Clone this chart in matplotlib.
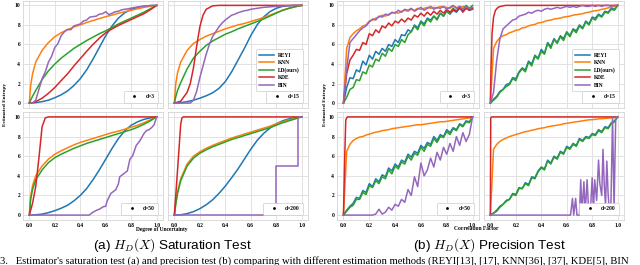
import numpy as np
import matplotlib
matplotlib.use('Agg')
import matplotlib.pyplot as plt
from matplotlib.lines import Line2D

plt.rcParams['font.family'] = ['Liberation Serif', 'DejaVu Serif']
plt.rcParams['font.weight'] = 'bold'
plt.rcParams['mathtext.fontset'] = 'cm'

METHODS = ['REYI', 'KNN', 'LD(ours)', 'KDE', 'BIN']
COLORS = ['#1f77b4', '#ff7f0e', '#2ca02c', '#d62728', '#9467bd']
DIMS = ['3', '15', '50', '200']

# shared x grids
X_SAT = [0, 0.01, 0.025, 0.05, 0.1, 0.15, 0.2, 0.25, 0.3, 0.35, 0.4, 0.45,
         0.5, 0.55, 0.6, 0.65, 0.7, 0.75, 0.8, 0.85, 0.9, 0.95, 1.0]
X41 = np.linspace(0, 1, 41)

# ---- saturation test ----
sat3_reyi = [0, 0.0, 0.02, 0.05, 0.15, 0.3, 0.55, 0.85, 1.25, 1.8, 2.5, 3.4, 4.5, 5.7, 6.9, 7.9, 8.7, 9.25, 9.6, 9.8, 9.92, 9.98, 10.0]
sat3_knn = [0, 1.8, 3.0, 4.2, 5.4, 6.2, 6.8, 7.2, 7.5, 7.8, 8.0, 8.25, 8.45, 8.65, 8.85, 9.0, 9.2, 9.35, 9.5, 9.65, 9.8, 9.9, 10.0]
sat3_ld = [0, 0.3, 0.7, 1.3, 2.4, 3.3, 4.0, 4.6, 5.1, 5.6, 6.0, 6.4, 6.75, 7.1, 7.4, 7.75, 8.1, 8.4, 8.7, 9.0, 9.3, 9.65, 10.0]
sat3_kde = [0, 0.01, 0.04, 0.15, 0.5, 1.0, 1.6, 2.3, 3.0, 3.8, 4.55, 5.3, 6.0, 6.65, 7.2, 7.6, 7.95, 8.25, 8.55, 8.85, 9.15, 9.55, 10.0]
sat3_bin = [0, 0, 0.3, 1.4, 2.5, 3.2, 4.2, 4.8, 5.7, 6.1, 6.9, 7.3, 7.55, 7.5, 7.9, 8.0, 8.1, 8.4, 8.5, 8.8,
            8.85, 8.9, 9.1, 9.15, 9.35, 9.05, 9.2, 9.35, 9.4, 9.55, 9.6, 9.65, 9.72, 9.78, 9.83, 9.88,
            9.92, 9.95, 9.98, 10.0, 10.0]

sat15_reyi = [0, 0, 0.01, 0.05, 0.15, 0.3, 0.5, 0.75, 1.05, 1.5, 2.2, 3.2, 4.4, 5.6, 6.9, 8.0, 8.8, 9.35, 9.7, 9.9, 9.97, 10.0, 10.0]
sat15_knn = [0, 1.9, 3.1, 4.2, 5.4, 6.1, 6.5, 6.85, 7.1, 7.35, 7.6, 7.8, 8.0, 8.15, 8.35, 8.55, 8.75, 9.0, 9.25, 9.5, 9.7, 9.85, 10.0]
sat15_ld = [0, 0.6, 1.3, 2.1, 3.5, 4.6, 5.3, 5.9, 6.35, 6.7, 7.05, 7.3, 7.6, 7.85, 8.1, 8.35, 8.6, 8.9, 9.2, 9.5, 9.7, 9.87, 10.0]
sat15_kde_x = [0, 0.05, 0.1, 0.125, 0.15, 0.175, 0.2, 0.225, 0.25, 0.3, 0.35, 1.0]
sat15_kde = [0, 0.2, 1.1, 2.0, 3.6, 5.8, 7.8, 9.0, 9.6, 9.95, 10.0, 10.0]
sat15_bin = [0, 0, 0, 0, 0, 0, 0.3, 1.2, 2.6, 3.8, 5.0, 6.0, 6.8, 7.3, 7.8, 8.2, 8.5, 8.75, 9.0, 9.1,
             9.25, 9.35, 9.45, 9.5, 9.6, 9.65, 9.7, 9.75, 9.8, 9.82, 9.85, 9.88, 9.9, 9.92, 9.94, 9.95,
             9.96, 9.97, 9.98, 9.99, 10.0]

sat50_reyi = [0, 0, 0.01, 0.03, 0.1, 0.25, 0.45, 0.7, 1.0, 1.45, 2.0, 2.7, 3.6, 4.6, 5.7, 6.8, 7.8, 8.6, 9.15, 9.5, 9.75, 9.9, 10.0]
sat50_knn = [0, 1.9, 3.0, 4.0, 5.0, 5.7, 6.2, 6.55, 6.85, 7.15, 7.4, 7.6, 7.8, 8.0, 8.2, 8.4, 8.55, 8.75, 8.95, 9.15, 9.4, 9.7, 10.0]
sat50_ld = [0, 1.6, 2.6, 3.6, 4.6, 5.35, 5.85, 6.2, 6.5, 6.8, 7.05, 7.3, 7.5, 7.7, 7.9, 8.1, 8.3, 8.5, 8.7, 8.95, 9.25, 9.6, 10.0]
sat50_kde_x = [0, 0.025, 0.05, 0.075, 0.1, 0.125, 0.15, 1.0]
sat50_kde = [0, 1.2, 2.9, 5.8, 9.0, 9.9, 10.0, 10.0]
sat50_bin_x = [0, 0.47, 0.5, 0.53, 0.55, 0.58, 0.6, 0.61, 0.64, 0.66, 0.68, 0.7, 0.71, 0.74, 0.77,
               0.79, 0.81, 0.84, 0.87, 0.9, 0.92, 0.94, 0.96, 0.98, 1.0]
sat50_bin = [0, 0, 0.3, 0.5, 0.6, 0.85, 0.9, 1.4, 2.2, 2.4, 2.6, 3.2, 3.9, 4.2, 4.5, 5.7, 6.0, 7.1,
             7.6, 8.3, 8.6, 8.7, 8.9, 9.2, 10.0]

sat200_reyi = [0, 0, 0.01, 0.03, 0.15, 0.35, 0.65, 1.05, 1.55, 2.2, 2.95, 3.8, 4.7, 5.7, 6.7, 7.6, 8.3, 8.85, 9.3, 9.6, 9.8, 9.93, 10.0]
sat200_knn = [0, 1.2, 2.4, 3.7, 5.2, 6.0, 6.45, 6.8, 7.1, 7.35, 7.6, 7.85, 8.05, 8.25, 8.45, 8.65, 8.85, 9.05, 9.3, 9.5, 9.7, 9.85, 10.0]
sat200_ld = [0, 1.0, 2.2, 3.5, 5.0, 5.8, 6.3, 6.65, 6.95, 7.2, 7.45, 7.7, 7.9, 8.1, 8.3, 8.5, 8.7, 8.9, 9.15, 9.4, 9.6, 9.8, 10.0]
sat200_kde_x = [0, 0.03, 0.05, 0.06, 0.07, 1.0]
sat200_kde = [0, 5.5, 9.3, 9.9, 10.0, 10.0]
sat200_bin_x = [0, 0.8, 0.8, 0.97, 0.97, 1.0]
sat200_bin = [0, 0, 5.0, 5.0, 10.0, 10.0]

# ---- precision test (41 points on X41 unless given) ----
pre3_reyi = [0, 1.6, 2.6, 2.5, 3.4, 3.2, 4.3, 3.9, 4.9, 4.5, 5.3, 5.0, 5.6, 5.3, 6.0, 5.8, 6.5, 6.2, 7.0, 6.9,
             7.5, 7.3, 8.0, 7.7, 8.4, 8.1, 8.7, 8.5, 8.9, 8.6, 9.2, 8.9, 9.4, 9.1, 9.5, 9.3, 9.7, 9.4, 9.8, 9.5, 9.6]
pre3_knn = [0, 5.6, 6.7, 7.1, 7.4, 7.6, 7.9, 8.0, 8.4, 8.5, 8.7, 8.8, 9.0, 8.9, 9.1, 9.2, 9.3, 9.2, 9.4, 9.5,
            9.4, 9.6, 9.5, 9.7, 9.6, 9.7, 9.8, 9.7, 9.8, 9.7, 9.9, 9.8, 9.8, 9.7, 9.9, 9.8, 9.7, 9.9, 9.8, 9.6, 9.7]
pre3_ld = [0, 0.6, 1.4, 1.6, 2.4, 2.3, 3.2, 3.0, 3.9, 3.7, 4.5, 4.3, 5.1, 4.8, 5.6, 5.3, 6.0, 5.8, 6.5, 6.2,
           7.0, 7.3, 7.9, 7.5, 8.3, 7.9, 8.6, 8.3, 8.9, 8.5, 9.2, 8.9, 9.5, 9.2, 9.7, 9.4, 9.9, 9.6, 10.0, 9.7, 10.0]
pre3_kde = [0, 3.0, 4.4, 4.9, 5.5, 5.4, 6.2, 6.0, 7.1, 6.9, 7.5, 7.2, 7.9, 7.7, 8.2, 7.9, 8.4, 8.2, 8.6, 8.3,
            8.7, 8.5, 9.0, 8.8, 9.2, 8.9, 9.3, 9.0, 9.4, 9.1, 9.5, 9.2, 9.6, 9.3, 9.6, 9.4, 9.8, 9.3, 9.7, 9.5, 9.7]
pre3_bin = [0, 3.5, 6.2, 6.6, 7.0, 7.4, 7.7, 7.9, 8.3, 8.6, 8.5, 8.9, 8.8, 9.1, 9.0, 9.3, 9.2, 9.5, 9.3, 9.6,
            9.5, 9.7, 9.4, 9.6, 9.8, 9.5, 9.7, 9.9, 9.6, 9.8, 9.7, 9.9, 9.6, 9.8, 10.0, 9.7, 9.9, 9.6, 9.9, 9.7, 9.8]

pre15_reyi = [0, 0.4, 0.7, 1.2, 1.4, 1.9, 2.0, 2.6, 2.5, 3.2, 3.6, 3.4, 4.3, 4.0, 4.9, 4.6, 5.5, 5.1, 6.2, 5.8,
              6.6, 6.2, 6.9, 6.6, 7.3, 6.9, 7.6, 7.4, 8.0, 7.7, 8.4, 8.1, 8.8, 8.7, 9.1, 8.9, 9.4, 9.3, 9.7, 9.6, 10.0]
pre15_knn = [0, 5.6, 6.3, 6.7, 6.9, 7.0, 7.2, 7.3, 7.45, 7.5, 7.7, 7.75, 7.9, 8.0, 8.05, 8.2, 8.25, 8.35, 8.45, 8.5,
             8.6, 8.65, 8.7, 8.8, 8.85, 8.9, 9.0, 9.05, 9.1, 9.15, 9.25, 9.3, 9.4, 9.45, 9.5, 9.6, 9.65, 9.75, 9.8, 9.9, 10.0]
pre15_ld = [0, 0.3, 0.6, 1.1, 1.4, 1.7, 1.9, 2.5, 2.3, 3.1, 3.5, 3.2, 4.2, 3.8, 4.8, 4.5, 5.3, 5.0, 6.1, 5.6,
            6.5, 6.1, 6.8, 6.4, 7.2, 6.8, 7.5, 7.2, 7.9, 7.6, 8.3, 8.0, 8.7, 8.5, 9.0, 8.8, 9.3, 9.2, 9.6, 9.5, 10.0]
pre15_kde_x = [0, 0.005, 0.013, 0.025, 0.04, 0.06, 0.08, 0.12, 1.0]
pre15_kde = [0, 3.5, 7.1, 8.8, 9.5, 9.8, 9.9, 10.0, 10.0]
pre15_bin = [0, 1.1, 4.4, 6.6, 7.6, 7.9, 8.2, 8.5, 8.6, 8.9, 9.0, 9.1, 9.3, 9.2, 9.4, 9.5, 9.4, 9.6, 9.7, 9.6,
             9.7, 9.8, 9.7, 9.8, 9.9, 9.8, 9.9, 9.8, 9.9, 10.0, 9.9, 9.9, 10.0, 9.9, 10.0, 9.9, 10.0, 10.0, 9.9, 10.0, 10.0]

pre50_reyi = [0, 0.5, 0.9, 1.2, 1.8, 1.7, 2.5, 2.3, 3.2, 2.9, 3.7, 3.4, 4.1, 3.9, 4.8, 4.5, 5.2, 4.9, 5.6, 5.4,
              6.2, 5.9, 6.5, 6.3, 7.1, 6.8, 7.4, 7.2, 8.0, 7.6, 8.2, 8.0, 8.7, 8.4, 8.9, 8.7, 9.3, 9.1, 9.6, 9.5, 10.0]
pre50_knn = [0, 6.5, 7.2, 7.6, 7.8, 7.95, 8.0, 8.15, 8.25, 8.35, 8.45, 8.5, 8.6, 8.65, 8.7, 8.8, 8.85, 8.9, 8.95, 9.0,
             9.05, 9.1, 9.15, 9.2, 9.2, 9.25, 9.3, 9.35, 9.4, 9.45, 9.5, 9.5, 9.55, 9.6, 9.65, 9.7, 9.75, 9.8, 9.85, 9.9, 10.0]
pre50_ld = [0, 0.4, 0.8, 1.0, 1.6, 1.6, 2.3, 2.1, 3.0, 2.8, 3.5, 3.2, 3.9, 3.7, 4.6, 4.2, 5.0, 4.7, 5.4, 5.2,
            6.0, 5.6, 6.3, 6.1, 6.9, 6.5, 7.2, 7.0, 7.8, 7.4, 8.0, 7.9, 8.5, 8.2, 8.8, 8.6, 9.2, 9.0, 9.5, 9.4, 10.0]
pre50_kde_x = [0, 0.01, 0.018, 0.03, 1.0]
pre50_kde = [0, 6.0, 9.7, 10.0, 10.0]
pre50_bin = [0, 0, 0, 0, 0, 0, 0, 0, 0, 0, 0.1, 0.6, 0.1, 0.3, 0.8, 0.5, 1.1, 0.9, 1.6, 1.3,
             2.6, 2.0, 3.9, 2.9, 5.3, 4.0, 4.6, 5.8, 4.9, 6.4, 5.6, 6.9, 6.2, 7.3, 6.5, 8.0, 7.1, 8.4, 7.5, 8.2, 10.0]

pre200_reyi = [0, 0.2, 0.5, 0.9, 1.1, 1.5, 1.6, 2.2, 2.1, 2.8, 2.7, 3.3, 3.1, 3.9, 3.8, 4.5, 4.9, 4.7, 5.6, 5.3,
               6.0, 5.8, 6.5, 6.3, 7.0, 6.8, 7.3, 7.1, 7.8, 7.6, 8.0, 7.9, 8.3, 8.2, 8.7, 8.5, 9.0, 8.9, 9.4, 9.6, 10.0]
pre200_knn = [0, 6.7, 7.2, 7.5, 7.7, 7.85, 8.0, 8.1, 8.2, 8.3, 8.4, 8.5, 8.55, 8.65, 8.7, 8.8, 8.85, 8.9, 9.0, 9.05,
              9.1, 9.15, 9.2, 9.3, 9.35, 9.4, 9.45, 9.5, 9.55, 9.6, 9.65, 9.7, 9.72, 9.75, 9.8, 9.82, 9.85, 9.88, 9.9, 9.95, 10.0]
pre200_ld = [0, 0.2, 0.4, 0.8, 1.1, 1.4, 1.6, 2.1, 2.0, 2.7, 2.7, 3.2, 3.0, 3.8, 3.7, 4.4, 4.8, 4.6, 5.5, 5.2,
             5.9, 5.7, 6.4, 6.2, 6.9, 6.7, 7.2, 7.0, 7.7, 7.5, 7.9, 7.8, 8.2, 8.1, 8.6, 8.4, 8.9, 8.8, 9.3, 9.5, 10.0]
pre200_kde_x = [0, 0.003, 0.01, 1.0]
pre200_kde = [0, 9.9, 10.0, 10.0]
pre200_bin_x = [0, 0.63, 0.645, 0.655, 0.67, 0.68, 0.70, 0.71, 0.72, 0.735, 0.745, 0.76, 0.77, 0.785, 0.80, 0.81,
                0.82, 0.835, 0.85, 0.86, 0.875, 0.885, 0.895, 0.905, 0.915, 0.925, 0.935, 0.947, 0.96, 0.972, 0.985, 1.0]
pre200_bin = [0, 0, 1.7, 0, 1.7, 0, 0, 3.6, 0.3, 3.4, 0.2, 3.6, 1.0, 0.2, 3.8, 0.5,
              3.6, 1.5, 5.6, 3.2, 2.0, 6.7, 3.0, 1.0, 5.5, 2.2, 0.4, 0.8, 10.0, 0.6, 10.0, 10.0]

sat_series = [
    [(X_SAT, sat3_reyi), (X_SAT, sat3_knn), (X_SAT, sat3_ld), (X_SAT, sat3_kde), (X41, sat3_bin)],
    [(X_SAT, sat15_reyi), (X_SAT, sat15_knn), (X_SAT, sat15_ld), (sat15_kde_x, sat15_kde), (X41, sat15_bin)],
    [(X_SAT, sat50_reyi), (X_SAT, sat50_knn), (X_SAT, sat50_ld), (sat50_kde_x, sat50_kde), (sat50_bin_x, sat50_bin)],
    [(X_SAT, sat200_reyi), (X_SAT, sat200_knn), (X_SAT, sat200_ld), (sat200_kde_x, sat200_kde), (sat200_bin_x, sat200_bin)],
]
pre_series = [
    [(X41, pre3_reyi), (X41, pre3_knn), (X41, pre3_ld), (X41, pre3_kde), (X41, pre3_bin)],
    [(X41, pre15_reyi), (X41, pre15_knn), (X41, pre15_ld), (pre15_kde_x, pre15_kde), (X41, pre15_bin)],
    [(X41, pre50_reyi), (X41, pre50_knn), (X41, pre50_ld), (pre50_kde_x, pre50_kde), (X41, pre50_bin)],
    [(X41, pre200_reyi), (X41, pre200_knn), (X41, pre200_ld), (pre200_kde_x, pre200_kde), (pre200_bin_x, pre200_bin)],
]

W, H = 640, 265


def rect(x0, x1, y0, y1):
    return [x0 / W, 1 - y1 / H, (x1 - x0) / W, (y1 - y0) / H]


def draw_panel(ax, series, dim, first_col, bottom_row, main_legend):
    for (xs, ys), name, c in zip(series, METHODS, COLORS):
        ax.plot(xs, ys, color=c, lw=1.1, label=name)
    ax.set_xlim(-0.05, 1.05)
    ax.set_ylim(-0.5, 10.5)
    ax.set_xticks([0, 0.2, 0.4, 0.6, 0.8, 1.0])
    ax.set_xticklabels(['0.0', '0.2', '0.4', '0.6', '0.8', '1.0'])
    ax.set_yticks([0, 2, 4, 6, 8, 10])
    ax.grid(True, color='#e2e2e2', lw=0.7)
    ax.set_axisbelow(True)
    for s in ax.spines.values():
        s.set_color('#d4d4d4')
        s.set_linewidth(0.6)
    ax.tick_params(length=0, pad=2, labelsize=4, labelleft=first_col, labelbottom=bottom_row)
    if main_legend:
        leg = ax.legend(loc='lower right', bbox_to_anchor=(0.985, 0.135), fontsize=4,
                        handlelength=2.6, labelspacing=0.42, borderpad=0.55, handletextpad=0.8,
                        frameon=True, fancybox=True, edgecolor='#cccccc', framealpha=1)
        leg.get_frame().set_linewidth(0.5)
        ax.add_artist(leg)
    dot = Line2D([], [], marker='o', ms=1.0, color='k', ls='none')
    leg2 = ax.legend([dot], ['d=' + dim], loc='lower right', bbox_to_anchor=(0.985, 0.025), fontsize=4,
                     handlelength=2.5, borderpad=0.6, handletextpad=0.8, frameon=True,
                     edgecolor='#cccccc', framealpha=1)
    leg2.get_frame().set_linewidth(0.5)


fig = plt.figure(figsize=(6.4, 2.65), dpi=100)

groups = [
    (sat_series, [(23, 163), (168, 308)]),
    (pre_series, [(337, 479), (484, 624)]),
]
rows = [(0.5, 108), (112, 220)]

for series_set, cols in groups:
    for i, series in enumerate(series_set):
        r, c = divmod(i, 2)
        ax = fig.add_axes(rect(cols[c][0], cols[c][1], rows[r][0], rows[r][1]))
        draw_panel(ax, series, DIMS[i], c == 0, r == 1, i == 1)

fig.text(5 / W, 1 - 104 / H, 'Estimated Entropy', rotation=90, ha='center', va='center', fontsize=3.8)
fig.text(325 / W, 1 - 104 / H, 'Estimated Entropy', rotation=90, ha='center', va='center', fontsize=3.8)
fig.text(162 / W, 1 - 229 / H, 'Degree of Uncertainty', ha='center', va='center', fontsize=4)
fig.text(476 / W, 1 - 229 / H, 'Correlation Factor', ha='center', va='center', fontsize=4)

fig.text(172 / W, 1 - 245 / H, r'(a) $H_D(X)$ Saturation Test', ha='center', va='center',
         fontsize=9.7, family='Liberation Sans', weight='normal')
fig.text(489 / W, 1 - 245 / H, r'(b) $H_D(X)$ Precision Test', ha='center', va='center',
         fontsize=9.7, family='Liberation Sans', weight='normal')
fig.text(0, 1.2 / H, "3.   Estimator's saturation test (a) and precision test (b) comparing with different "
         "estimation methods (REYI[13], [17], KNN[36], [37], KDE[5], BIN",
         ha='left', va='baseline', fontsize=7.7, weight='normal')

fig.savefig('out.png', dpi=100)
